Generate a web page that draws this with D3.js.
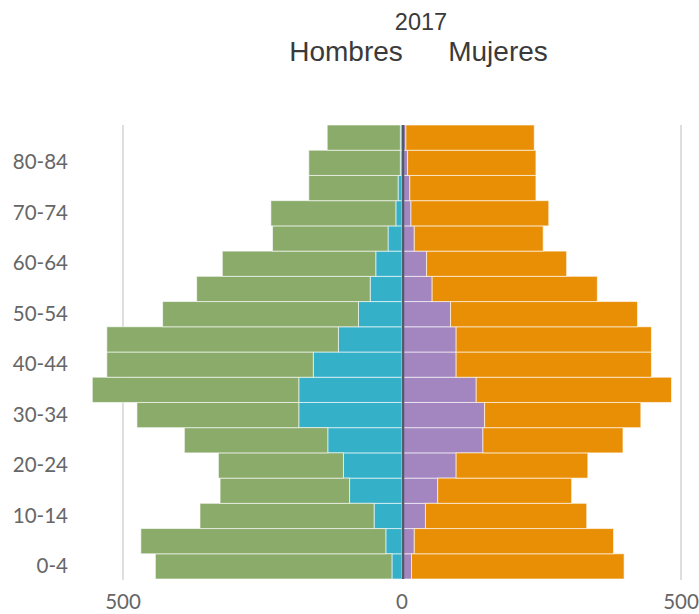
<!DOCTYPE html>
<html>
<head>
<meta charset="utf-8">
<script src="https://cdn.jsdelivr.net/npm/d3@7"></script>
<style>
  body { margin: 0; background: #fff; }
  svg { display: block; }
</style>
</head>
<body>
<script>
// age groups, youngest first
const ages = ['0-4','5-9','10-14','15-19','20-24','25-29','30-34','35-39','40-44',
              '45-49','50-54','55-59','60-64','65-69','70-74','75-79','80-84','85+'];
// men: total and the inner (blue) part
const menTotal = [442,468,362,326,329,390,475,555,529,529,429,368,322,232,235,167,167,134];
const menInner = [18,29,50,94,105,133,185,185,159,114,78,57,47,25,11,7,3,3];
// women: total and the inner (purple) part
const womenTotal = [398,379,331,304,333,396,428,483,447,447,422,350,295,253,263,240,240,237];
const womenInner = [17,22,42,64,97,145,148,133,97,97,87,54,44,22,16,14,10,7];
const axisTicks = [500, 0, 500];
const year = '2017';

const width = 699, height = 614;
const zeroX = 402;
const margin = {top: 125, bottom: 35};

const svg = d3.select('body').append('svg')
  .attr('width', width)
  .attr('height', height);

const xLeft = d3.scaleLinear().domain([0, 500]).range([zeroX, 123]);
const xRight = d3.scaleLinear().domain([0, 500]).range([zeroX, 681]);
const y = d3.scaleBand()
  .domain(ages.slice().reverse())
  .range([margin.top, height - margin.bottom])
  .padding(0);

const rows = ages.map((a, i) => ({
  age: a, mt: menTotal[i], mi: menInner[i], wt: womenTotal[i], wi: womenInner[i]
}));

// gridlines at 500
svg.append('g').selectAll('line')
  .data([xLeft(500), xRight(500)])
  .join('line')
  .attr('x1', d => d).attr('x2', d => d)
  .attr('y1', margin.top).attr('y2', y.range()[1] + 1)
  .attr('stroke', '#dedede')
  .attr('stroke-width', 2);

const bars = svg.append('g');

// men, blue part then green rest
bars.selectAll('.mi').data(rows).join('rect')
  .attr('x', d => xLeft(d.mi)).attr('y', d => y(d.age))
  .attr('width', d => xLeft(0) - xLeft(d.mi)).attr('height', y.bandwidth())
  .attr('fill', '#35b0c9').attr('stroke', '#fff').attr('stroke-opacity', 0.6).attr('stroke-width', 1);
bars.selectAll('.mt').data(rows).join('rect')
  .attr('x', d => xLeft(d.mt)).attr('y', d => y(d.age))
  .attr('width', d => xLeft(d.mi) - xLeft(d.mt)).attr('height', y.bandwidth())
  .attr('fill', '#8aab6a').attr('stroke', '#fff').attr('stroke-opacity', 0.6).attr('stroke-width', 1);

// women, purple part then orange rest
bars.selectAll('.wi').data(rows).join('rect')
  .attr('x', xRight(0)).attr('y', d => y(d.age))
  .attr('width', d => xRight(d.wi) - xRight(0)).attr('height', y.bandwidth())
  .attr('fill', '#a385c0').attr('stroke', '#fff').attr('stroke-opacity', 0.6).attr('stroke-width', 1);
bars.selectAll('.wt').data(rows).join('rect')
  .attr('x', d => xRight(d.wi)).attr('y', d => y(d.age))
  .attr('width', d => xRight(d.wt) - xRight(d.wi)).attr('height', y.bandwidth())
  .attr('fill', '#e98f06').attr('stroke', '#fff').attr('stroke-opacity', 0.6).attr('stroke-width', 1);

// zero line
svg.append('line')
  .attr('x1', zeroX + 1).attr('x2', zeroX + 1)
  .attr('y1', margin.top).attr('y2', y.range()[1])
  .attr('stroke', '#4f5d6b').attr('stroke-width', 2.5);

// age labels (every other group)
const yAxis = d3.axisLeft(y)
  .tickValues(ages.filter((a, i) => i % 2 === 0))
  .tickSize(0).tickPadding(0);
svg.append('g')
  .attr('transform', 'translate(68,0)')
  .call(yAxis)
  .call(g => g.select('.domain').remove())
  .selectAll('text')
  .attr('font-family', 'Lato, sans-serif')
  .attr('font-size', 20.5)
  .attr('fill', '#666');

// bottom tick labels
const tickPos = [xLeft(500), xLeft(0), xRight(500)];
svg.append('g').selectAll('text')
  .data(axisTicks)
  .join('text')
  .attr('x', (d, i) => tickPos[i])
  .attr('y', 609)
  .attr('text-anchor', 'middle')
  .attr('font-family', 'Lato, sans-serif')
  .attr('font-size', 20.5)
  .attr('fill', '#666')
  .text(d => d);

// titles
svg.append('text')
  .attr('x', 421).attr('y', 30)
  .attr('text-anchor', 'middle')
  .attr('font-family', 'Liberation Sans, Arial, sans-serif')
  .attr('font-size', 23.5)
  .attr('fill', '#3a3a3a')
  .text(year);
svg.append('text')
  .attr('x', 346).attr('y', 61)
  .attr('text-anchor', 'middle')
  .attr('font-family', 'Liberation Sans, Arial, sans-serif')
  .attr('font-size', 28)
  .attr('fill', '#3a3a3a')
  .text('Hombres');
svg.append('text')
  .attr('x', 498).attr('y', 61)
  .attr('text-anchor', 'middle')
  .attr('font-family', 'Liberation Sans, Arial, sans-serif')
  .attr('font-size', 28)
  .attr('fill', '#3a3a3a')
  .text('Mujeres');
</script>
</body>
</html>
